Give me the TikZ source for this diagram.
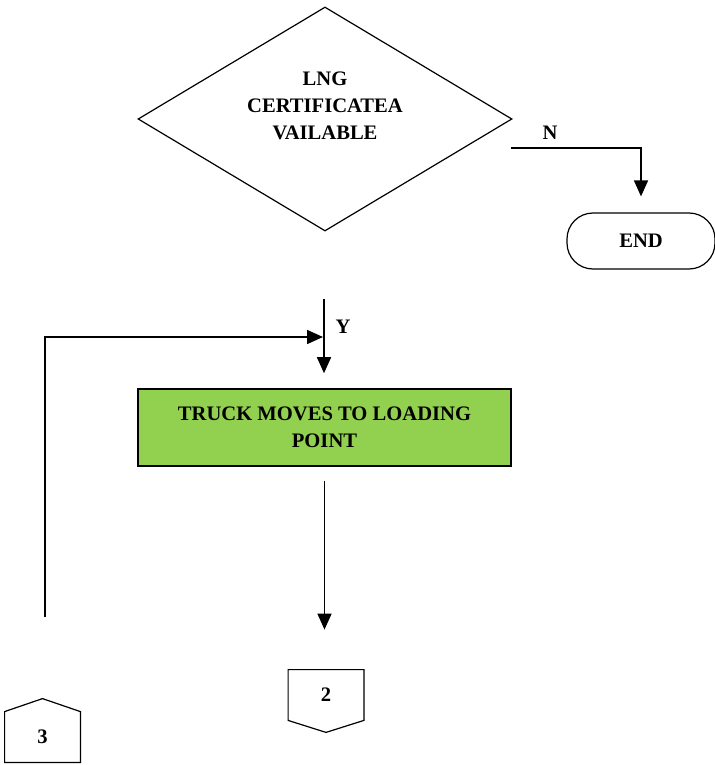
\documentclass[tikz,border=0pt]{standalone}
\usepackage{fontspec}
\setmainfont{Liberation Serif}
\usetikzlibrary{shapes.geometric,arrows.meta}
\definecolor{loadgreen}{HTML}{92D050}

\begin{document}
\begin{tikzpicture}
        [x=0.5pt, y=-0.5pt, font=\fontsize{10.3}{13.5}\selectfont\bfseries,
        decision/.style={diamond, draw, line width=0.6pt, aspect=1.67, inner sep=0pt,
            minimum width=187pt, minimum height=112pt, align=center},
        terminal/.style={draw, rounded corners=13pt, line width=0.6pt,
            minimum width=74pt, minimum height=28pt},
        process/.style={draw, fill=loadgreen, line width=0.8pt, align=center,
            minimum width=186.5pt, minimum height=38.5pt},
        offpage/.style={minimum width=37.5pt, minimum height=25pt, inner sep=0pt},
        connector/.style={line width=0.6pt},
        arrow/.style={line width=0.8pt, -{Triangle[width=7pt,length=8pt]}}]

        \useasboundingbox (0,0) rectangle (715,765);

        \node[decision] (cert) at (325,119)
            {\raisebox{3.5pt}[0pt][0pt]{\begin{tabular}{@{}c@{}}LNG\\CERTIFICATEA\\VAILABLE\end{tabular}}};
        \node[terminal] (end) at (641,241) {END};
        \node[process] (load) at (324.5,427.5) {TRUCK MOVES TO LOADING\\POINT};
        \node[offpage] (two) at (326,695) {2};
        \node[offpage] (three) at (42.5,737) {3};

        % off-page connector outlines
        \draw[connector] (two.north west) -- (two.north east) -- (two.south east)
            -- ([yshift=-6pt]two.south) -- (two.south west) -- cycle;
        \draw[connector] (three.south west) -- (three.south east) -- (three.north east)
            -- ([yshift=6.5pt]three.north) -- (three.north west) -- cycle;

        % loose line ends
        \coordinate (nstart) at (511,148);
        \coordinate (ystart) at (324,299);
        \coordinate (ymeet) at (323,337);
        \coordinate (loopstart) at (45,617);

        % labels
        \node (nlabel) at (550,133) {N};
        \node (ylabel) at (343,327) {Y};

        % flow lines
        \draw[arrow, shorten >=8pt] (nstart) -| (end.north);
        \draw[arrow, shorten >=7.5pt] (ystart) -- (ystart |- load.north);
        \draw[arrow] (loopstart) |- (ymeet);
        \draw[arrow, shorten <=7pt, shorten >=20pt] (load.south) -- (load.south |- two.north);

        \end{tikzpicture}
\end{document}
